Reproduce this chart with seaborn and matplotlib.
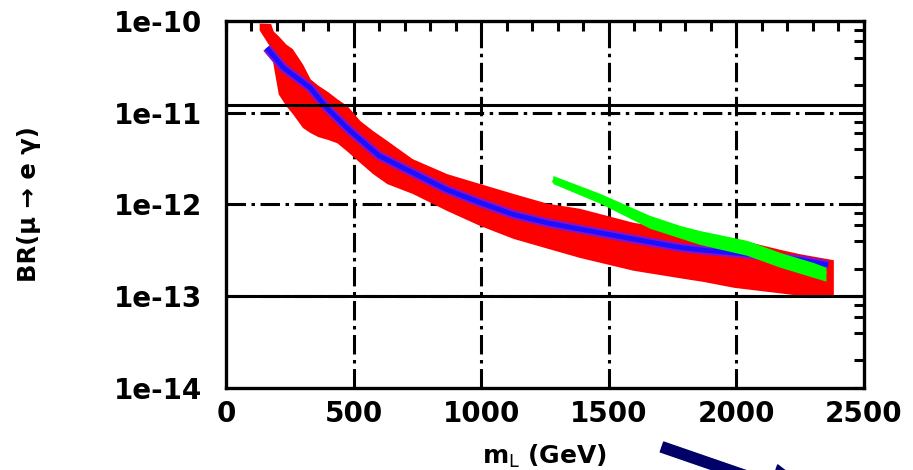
import numpy as np
import pandas as pd
import matplotlib
matplotlib.use("Agg")
import matplotlib.pyplot as plt
import seaborn as sns
from matplotlib.ticker import FixedLocator, MultipleLocator, NullFormatter

# ---------------- data ----------------
red_x = [130, 175, 185, 205, 235, 260, 300, 330, 360, 400, 435, 475, 525, 575, 630,
         730, 865, 995, 1125, 1260, 1385, 1595, 1790, 1870, 1990, 2180, 2250, 2380]
red_hi = [9.5e-11, 9.4e-11, 7.8e-11, 6.9e-11, 5.6e-11, 5.0e-11, 3.4e-11, 2.34e-11, 2.0e-11,
          1.69e-11, 1.42e-11, 1.19e-11, 8.2e-12, 6.4e-12, 5.0e-12, 3.16e-12, 2.17e-12,
          1.69e-12, 1.32e-12, 1.03e-12, 9.1e-13, 6.4e-13, 5.2e-13, 5.0e-13, 4.3e-13,
          3.2e-13, 2.9e-13, 2.5e-13]
red_lo = [8.0e-11, 5.1e-11, 3.3e-11, 1.6e-11, 1.19e-11, 9.8e-12, 6.9e-12, 6.07e-12, 5.5e-12,
          5.1e-12, 4.7e-12, 3.8e-12, 2.86e-12, 2.17e-12, 1.69e-12, 1.32e-12, 8.6e-13,
          5.9e-13, 4.27e-13, 3.33e-13, 2.65e-13, 1.92e-13, 1.57e-13, 1.45e-13, 1.25e-13,
          1.08e-13, 1.02e-13, 9.8e-14]

blue_x = [160, 225, 330, 395, 485, 600, 735, 865, 995, 1125, 1260, 1385, 1660, 1780,
          1860, 2055, 2250, 2360]
blue_y = [5.1e-11, 3.1e-11, 1.87e-11, 1.13e-11, 6.4e-12, 3.4e-12, 2.2e-12, 1.45e-12,
          1.05e-12, 7.8e-13, 6.3e-13, 5.4e-13, 3.9e-13, 3.4e-13, 3.2e-13, 2.85e-13,
          2.5e-13, 2.2e-13]

green_x = [1281, 1466, 1661, 1780, 1857, 2042, 2171, 2300, 2351]
green_hi = [2.07e-12, 1.32e-12, 7.6e-13, 5.9e-13, 5.2e-13, 4.06e-13, 3.0e-13, 2.34e-13, 2.07e-13]
green_lo = [1.69e-12, 1.03e-12, 5.5e-13, 4.3e-13, 3.67e-13, 2.79e-13, 2.07e-13, 1.61e-13, 1.46e-13]

limit_lines = [1.22e-11, 1e-13]
grid_x = [500, 1000, 1500, 2000]
grid_y = [1e-11, 1e-12, 1e-13]
y_ticks = [1e-14, 1e-13, 1e-12, 1e-11, 1e-10]
y_ticklabels = ["1e-14", "1e-13", "1e-12", "1e-11", "1e-10"]
x_ticks = [0, 500, 1000, 1500, 2000, 2500]
x_ticklabels = ["0", "500", "1000", "1500", "2000", "2500"]

# ---------------- figure ----------------
sns.set_style("white")
plt.rcParams["font.family"] = ["DejaVu Sans"]
plt.rcParams["lines.scale_dashes"] = False
for k in ("text.color", "axes.labelcolor", "xtick.color", "ytick.color"):
    plt.rcParams[k] = "black"

fig = plt.figure(figsize=(9.13, 4.70), dpi=100)
ax = fig.add_axes([0.2475, 0.1745, 0.6988, 0.7808])

gridstyle = (0, (14, 4, 2.5, 4))
for gx in grid_x:
    ax.axvline(gx, color="black", lw=2.2, ls=gridstyle, zorder=1)
for gy in grid_y:
    ax.axhline(gy, color="black", lw=2.2, ls=gridstyle, zorder=1)

# red band
ax.fill_between(red_x, red_lo, red_hi, color="#ff0000", lw=0, zorder=2)

# blue band (purple fringe + blue core)
blue_df = pd.DataFrame({"x": blue_x, "y": blue_y})
sns.lineplot(data=blue_df, x="x", y="y", ax=ax, color="#8a10c8", lw=6.5,
             solid_capstyle="butt", zorder=3)
sns.lineplot(data=blue_df, x="x", y="y", ax=ax, color="#1a10ff", lw=3.5,
             solid_capstyle="butt", zorder=4)

# green band
ax.fill_between(green_x, green_lo, green_hi, color="#00ff00", lw=0, zorder=5)
green_df = pd.DataFrame({"x": green_x, "y": np.sqrt(np.array(green_hi) * np.array(green_lo))})
sns.lineplot(data=green_df, x="x", y="y", ax=ax, color="#00ff00", lw=4,
             solid_capstyle="butt", zorder=5)

for ly in limit_lines:
    ax.axhline(ly, color="black", lw=2.2, zorder=6)

ax.set_yscale("log")
ax.set_xlim(0, 2500)
ax.set_ylim(1e-14, 1e-10)

ax.yaxis.set_major_locator(FixedLocator(y_ticks))
ax.set_yticklabels(y_ticklabels)
ax.yaxis.set_minor_locator(FixedLocator(
    [m * 10.0 ** e for e in range(-14, -10) for m in (2, 4, 6, 8)]))
ax.yaxis.set_minor_formatter(NullFormatter())
ax.set_xticks(x_ticks)
ax.set_xticklabels(x_ticklabels)
ax.xaxis.set_minor_locator(MultipleLocator(100))

ax.tick_params(which="both", direction="in", top=True, right=True,
               width=2.2, length=7, color="black")
ax.tick_params(axis="y", which="major", pad=17, labelsize=20)
ax.tick_params(axis="x", which="major", pad=9, labelsize=20)
for lab in ax.get_xticklabels() + ax.get_yticklabels():
    lab.set_fontweight("bold")

for sp in ax.spines.values():
    sp.set_linewidth(2.4)
    sp.set_color("black")
    sp.set_zorder(10)

ax.set_xlabel(r"m$_{\mathrm{L}}$ (GeV)", fontsize=18, fontweight="bold")
ax.xaxis.set_label_coords(0.5, -0.15)
ax.set_ylabel("BR(μ → e γ)", fontsize=17.5, fontweight="bold")
ax.yaxis.set_label_coords(-0.29, 0.5)

# navy arrow below the axes
ax.annotate("", xy=(830, -35), xytext=(662, 23), xycoords="figure pixels",
            textcoords="figure pixels", annotation_clip=False,
            arrowprops=dict(width=7.5, headwidth=30, headlength=45,
                            color="#000068", shrink=0))

fig.savefig("out.png", dpi=100)
